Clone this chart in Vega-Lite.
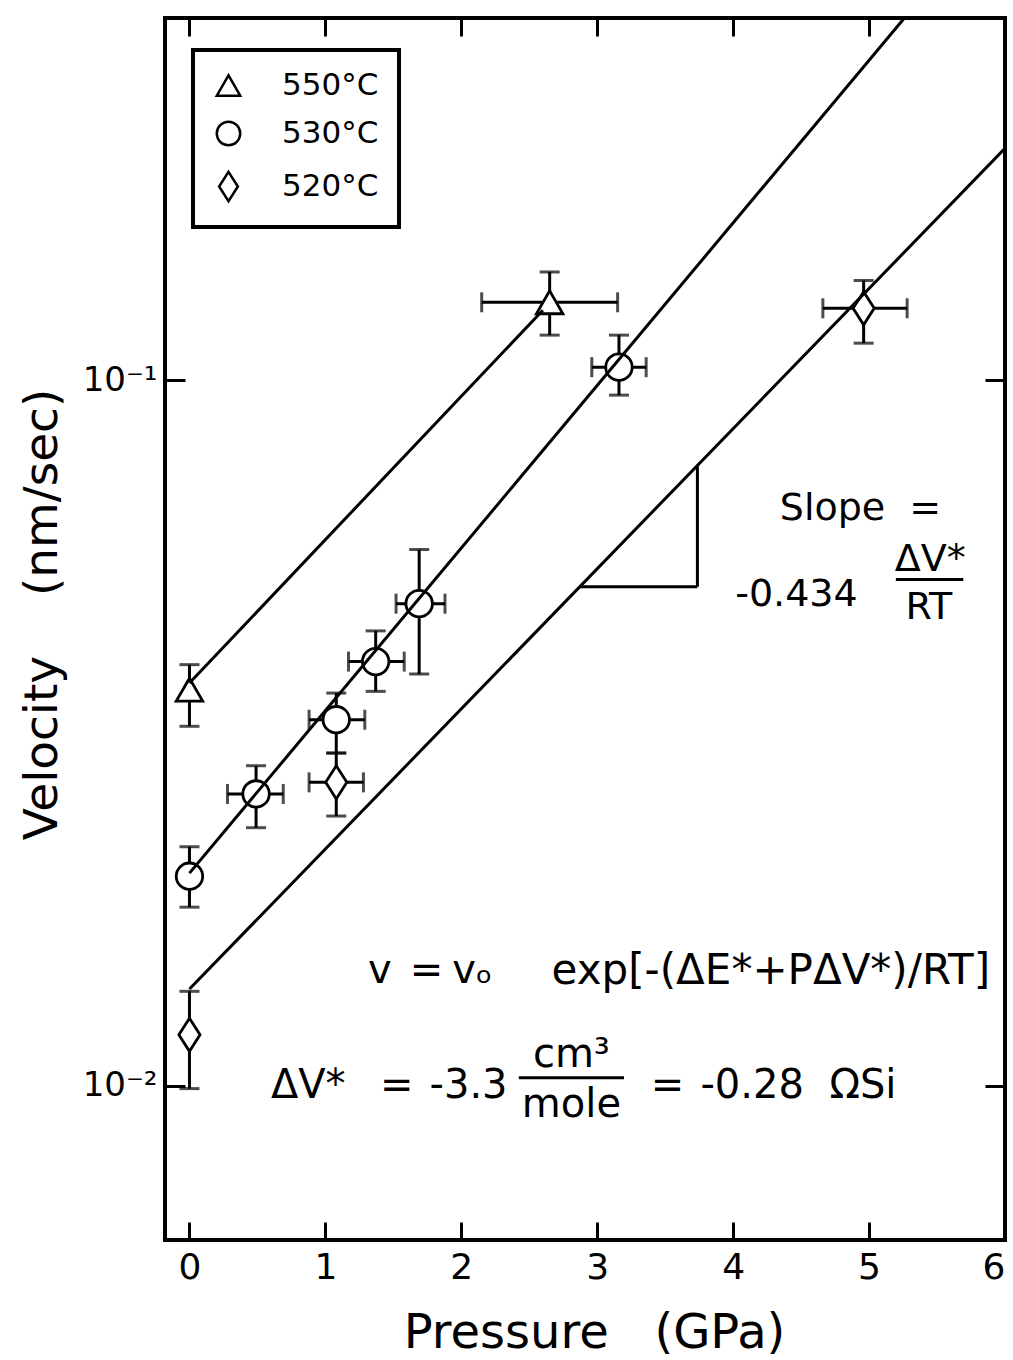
{
  "$schema": "https://vega.github.io/schema/vega-lite/v6.json",
  "width": 840,
  "height": 1222,
  "autosize": {"type": "none"},
  "padding": {"left": 165, "top": 18, "right": 8, "bottom": 120},
  "background": "white",
  "config": {
    "font": "DejaVu Sans",
    "view": {"stroke": "black", "strokeWidth": 4},
    "axis": {"grid": false, "domain": false, "tickColor": "black", "labelColor": "black", "titleColor": "black", "labelFont": "DejaVu Sans", "titleFont": "DejaVu Sans", "titleFontWeight": "normal"},
    "legend": {"strokeColor": "black", "strokeWidth": 4}
  },
  "datasets": {
    "pts": [
      {"series": "550°C", "x": 0, "y": 0.0364, "ylo": 0.0323, "yhi": 0.0395},
      {"series": "550°C", "x": 2.65, "y": 0.1289, "ylo": 0.1158, "yhi": 0.1423, "xlo": 2.15, "xhi": 3.15},
      {"series": "530°C", "x": 0, "y": 0.0198, "ylo": 0.0179, "yhi": 0.0218},
      {"series": "530°C", "x": 0.49, "y": 0.0259, "ylo": 0.0232, "yhi": 0.0284, "xlo": 0.28, "xhi": 0.69},
      {"series": "530°C", "x": 1.08, "y": 0.033, "ylo": 0.0296, "yhi": 0.036, "xlo": 0.88, "xhi": 1.29},
      {"series": "530°C", "x": 1.37, "y": 0.0399, "ylo": 0.0362, "yhi": 0.0441, "xlo": 1.17, "xhi": 1.58},
      {"series": "530°C", "x": 1.69, "y": 0.0482, "ylo": 0.0383, "yhi": 0.0575, "xlo": 1.52, "xhi": 1.88},
      {"series": "530°C", "x": 3.16, "y": 0.1043, "ylo": 0.0952, "yhi": 0.1158, "xlo": 2.96, "xhi": 3.36},
      {"series": "520°C", "x": 0, "y": 0.0118, "ylo": 0.0099, "yhi": 0.0136},
      {"series": "520°C", "x": 1.08, "y": 0.0269, "ylo": 0.0241, "yhi": 0.0296, "xlo": 0.88, "xhi": 1.28},
      {"series": "520°C", "x": 4.96, "y": 0.1264, "ylo": 0.1128, "yhi": 0.1384, "xlo": 4.66, "xhi": 5.28}
    ],
    "fits": [
      {"series": "550°C", "x": 0, "y": 0.0372},
      {"series": "550°C", "x": 2.6, "y": 0.1256},
      {"series": "530°C", "x": 0, "y": 0.02},
      {"series": "530°C", "x": 5.26, "y": 0.326},
      {"series": "520°C", "x": 0, "y": 0.0137},
      {"series": "520°C", "x": 6, "y": 0.213}
    ],
    "guides": [
      {"x": 3.737, "x2": 3.737, "y": 0.0755, "y2": 0.05095},
      {"x": 2.87, "x2": 3.737, "y": 0.05095, "y2": 0.05095},
      {"x": 5.197, "x2": 5.693, "y": 0.05214, "y2": 0.05214},
      {"x": 2.423, "x2": 3.197, "y": 0.01026, "y2": 0.01026}
    ],
    "tSlopeLeft": [
      {"x": 4.343, "y": 0.0657, "t": "Slope\u00a0\u00a0="},
      {"x": 4.015, "y": 0.04965, "t": "-0.434"}
    ],
    "tSlopeCenter": [
      {"x": 5.45, "y": 0.0556, "t": "ΔV*"},
      {"x": 5.44, "y": 0.04745, "t": "RT"}
    ],
    "tEqLeft": [
      {"x": 1.314, "y": 0.01455, "t": "v"},
      {"x": 1.62, "y": 0.01455, "t": "="},
      {"x": 1.934, "y": 0.01455, "t": "vₒ"},
      {"x": 0.599, "y": 0.01, "t": "ΔV*"},
      {"x": 1.401, "y": 0.01, "t": "="},
      {"x": 1.766, "y": 0.01, "t": "-3.3"},
      {"x": 3.394, "y": 0.01, "t": "="},
      {"x": 3.759, "y": 0.01, "t": "-0.28"},
      {"x": 4.708, "y": 0.01, "t": "ΩSi"}
    ],
    "tEqLong": [
      {"x": 2.664, "y": 0.01455, "t": "exp[-(ΔE*+PΔV*)/RT]"}
    ],
    "tEqCenter": [
      {"x": 2.81, "y": 0.01103, "t": "cm³"},
      {"x": 2.81, "y": 0.00937, "t": "mole"}
    ]
  },
  "layer": [
    {
      "data": {"name": "pts"},
      "mark": {"type": "errorbar", "color": "black", "ticks": {"size": 20, "thickness": 3, "color": "black"}, "rule": {"strokeWidth": 3, "color": "black"}},
      "encoding": {
        "x": {"field": "x", "type": "quantitative", "scale": {"domain": [-0.18, 6], "nice": false, "zero": false},
          "axis": {"orient": "bottom", "values": [0, 1, 2, 3, 4, 5, 6], "format": "d", "tickSize": -18, "tickWidth": 3, "labelPadding": 28, "labelFontSize": 36, "labelFlush": true, "labelFlushOffset": 0, "title": "Pressure\u00a0\u00a0\u00a0(GPa)", "titleFontSize": 48, "titlePadding": 24, "titleX": 429}},
        "y": {"field": "ylo", "type": "quantitative", "scale": {"type": "log", "domain": [0.00604, 0.326], "nice": false},
          "axis": {"orient": "left", "values": [0.01, 0.1], "labelExpr": "datum.value < 0.05 ? '10⁻²' : '10⁻¹'", "tickSize": -20, "tickWidth": 3, "labelPadding": 28, "labelFontSize": 34, "title": "Velocity\u00a0\u00a0\u00a0\u00a0(nm/sec)", "titleFontSize": 47, "titleX": -123, "titleY": 596, "titleBaseline": "middle"}},
        "y2": {"field": "yhi"}
      }
    },
    {
      "data": {"name": "pts"},
      "transform": [{"filter": "isValid(datum.xlo)"}],
      "mark": {"type": "errorbar", "color": "black", "ticks": {"size": 20, "thickness": 3, "color": "black"}, "rule": {"strokeWidth": 3, "color": "black"}},
      "encoding": {
        "x": {"field": "xlo", "type": "quantitative", "scale": {"domain": [-0.18, 6], "nice": false, "zero": false},
          "axis": {"orient": "top", "values": [0, 1, 2, 3, 4, 5, 6], "labels": false, "tickSize": -18, "tickWidth": 3, "title": null}},
        "x2": {"field": "xhi"},
        "y": {"field": "y", "type": "quantitative", "scale": {"type": "log", "domain": [0.00604, 0.326], "nice": false},
          "axis": {"orient": "right", "values": [0.01, 0.1], "labels": false, "tickSize": -20, "tickWidth": 3, "title": null}}
      }
    },
    {
      "data": {"name": "pts"},
      "mark": {"type": "point", "filled": false, "size": 700, "color": "black", "fill": "white", "strokeWidth": 2.8, "opacity": 1},
      "encoding": {
        "x": {"field": "x", "type": "quantitative", "scale": {"domain": [-0.18, 6], "nice": false, "zero": false}, "axis": null},
        "y": {"field": "y", "type": "quantitative", "scale": {"type": "log", "domain": [0.00604, 0.326], "nice": false}, "axis": null},
        "shape": {"field": "series", "type": "nominal",
          "scale": {"domain": ["550°C", "530°C", "520°C"], "range": ["triangle-up", "circle", "M0,-1.25L0.8,0L0,1.25L-0.8,0Z"]},
          "legend": {"orient": "none", "legendX": 28, "legendY": 32, "title": null, "padding": 20, "symbolSize": 550, "symbolStrokeWidth": 2.5, "labelFontSize": 31, "labelFont": "DejaVu Sans", "labelColor": "black", "labelOffset": 38, "rowPadding": 15, "strokeColor": "black"}}
      }
    },
    {
      "data": {"name": "fits"},
      "mark": {"type": "line", "color": "black", "strokeWidth": 3, "clip": true},
      "encoding": {
        "x": {"field": "x", "type": "quantitative", "scale": {"domain": [-0.18, 6], "nice": false, "zero": false}, "axis": null},
        "y": {"field": "y", "type": "quantitative", "scale": {"type": "log", "domain": [0.00604, 0.326], "nice": false}, "axis": null},
        "detail": {"field": "series"}
      }
    },
    {
      "data": {"name": "guides"},
      "mark": {"type": "rule", "color": "black", "strokeWidth": 3},
      "encoding": {
        "x": {"field": "x", "type": "quantitative", "scale": {"domain": [-0.18, 6], "nice": false, "zero": false}, "axis": null},
        "x2": {"field": "x2"},
        "y": {"field": "y", "type": "quantitative", "scale": {"type": "log", "domain": [0.00604, 0.326], "nice": false}, "axis": null},
        "y2": {"field": "y2"}
      }
    },
    {
      "data": {"name": "tSlopeLeft"},
      "mark": {"type": "text", "align": "left", "baseline": "middle", "fontSize": 38, "font": "DejaVu Sans", "color": "black"},
      "encoding": {
        "x": {"field": "x", "type": "quantitative", "scale": {"domain": [-0.18, 6], "nice": false, "zero": false}, "axis": null},
        "y": {"field": "y", "type": "quantitative", "scale": {"type": "log", "domain": [0.00604, 0.326], "nice": false}, "axis": null},
        "text": {"field": "t"}
      }
    },
    {
      "data": {"name": "tSlopeCenter"},
      "mark": {"type": "text", "align": "center", "baseline": "middle", "fontSize": 38, "font": "DejaVu Sans", "color": "black"},
      "encoding": {
        "x": {"field": "x", "type": "quantitative", "scale": {"domain": [-0.18, 6], "nice": false, "zero": false}, "axis": null},
        "y": {"field": "y", "type": "quantitative", "scale": {"type": "log", "domain": [0.00604, 0.326], "nice": false}, "axis": null},
        "text": {"field": "t"}
      }
    },
    {
      "data": {"name": "tEqLeft"},
      "mark": {"type": "text", "align": "left", "baseline": "middle", "fontSize": 40, "font": "DejaVu Sans", "color": "black"},
      "encoding": {
        "x": {"field": "x", "type": "quantitative", "scale": {"domain": [-0.18, 6], "nice": false, "zero": false}, "axis": null},
        "y": {"field": "y", "type": "quantitative", "scale": {"type": "log", "domain": [0.00604, 0.326], "nice": false}, "axis": null},
        "text": {"field": "t"}
      }
    },
    {
      "data": {"name": "tEqLong"},
      "mark": {"type": "text", "align": "left", "baseline": "middle", "fontSize": 42, "font": "DejaVu Sans", "color": "black"},
      "encoding": {
        "x": {"field": "x", "type": "quantitative", "scale": {"domain": [-0.18, 6], "nice": false, "zero": false}, "axis": null},
        "y": {"field": "y", "type": "quantitative", "scale": {"type": "log", "domain": [0.00604, 0.326], "nice": false}, "axis": null},
        "text": {"field": "t"}
      }
    },
    {
      "data": {"name": "tEqCenter"},
      "mark": {"type": "text", "align": "center", "baseline": "middle", "fontSize": 40, "font": "DejaVu Sans", "color": "black"},
      "encoding": {
        "x": {"field": "x", "type": "quantitative", "scale": {"domain": [-0.18, 6], "nice": false, "zero": false}, "axis": null},
        "y": {"field": "y", "type": "quantitative", "scale": {"type": "log", "domain": [0.00604, 0.326], "nice": false}, "axis": null},
        "text": {"field": "t"}
      }
    }
  ],
  "resolve": {"axis": {"x": "independent", "y": "independent"}}
}
